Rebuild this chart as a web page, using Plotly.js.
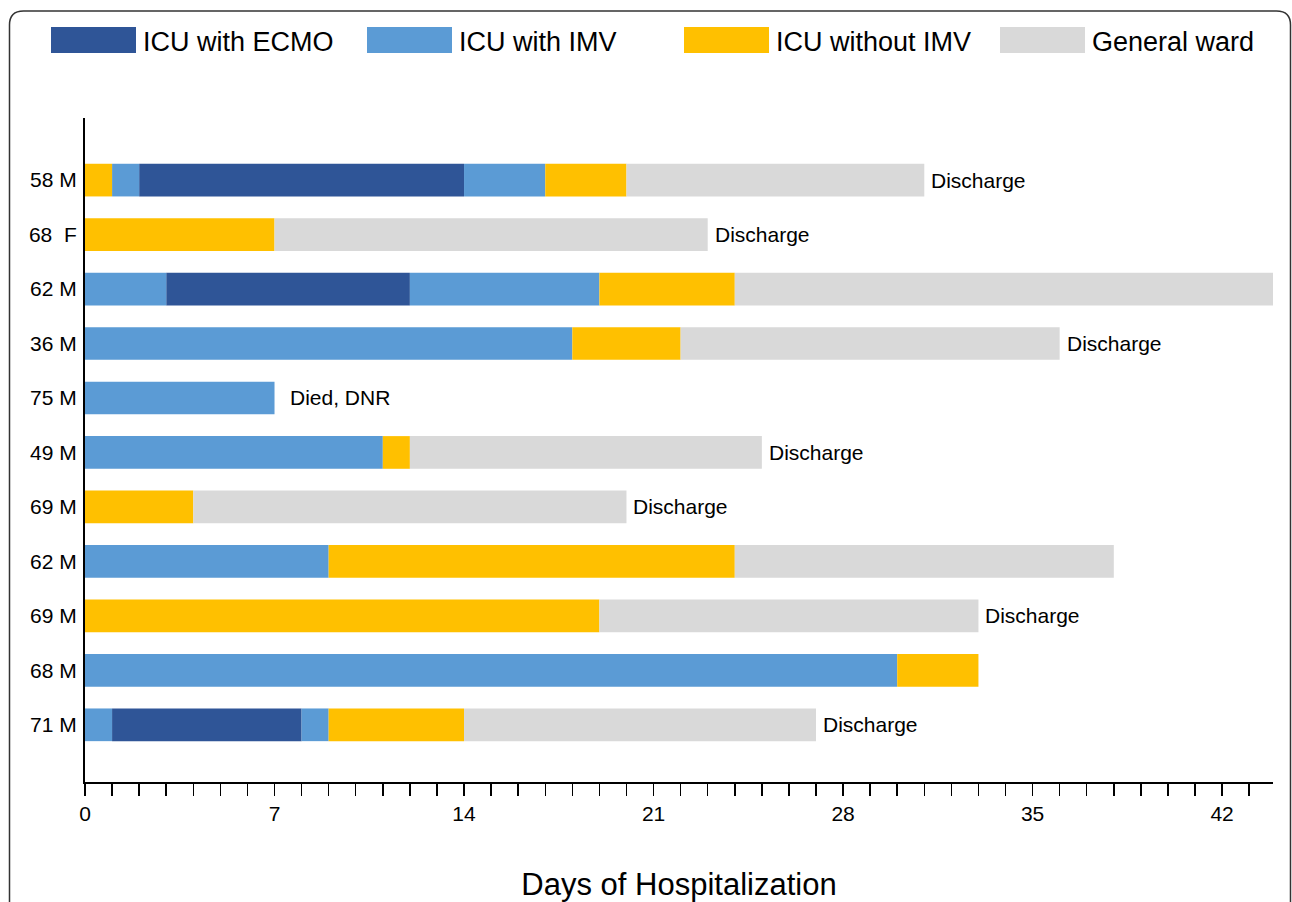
<!DOCTYPE html>
<html>
<head>
<meta charset="utf-8">
<script src="https://cdn.plot.ly/plotly-3.0.1.min.js"></script>
<style>
  html, body { margin: 0; padding: 0; background: #fff; }
  #chart { width: 1292px; height: 902px; }
</style>
</head>
<body>
<div id="chart"></div>
<script>
// ---------------- DATA ----------------
const phaseNames  = ['ICU with ECMO', 'ICU with IMV', 'ICU without IMV', 'General ward'];
const phaseColors = ['#2F5597', '#5B9BD5', '#FFC000', '#D9D9D9'];

// patients listed top to bottom
const patients = ['58 M', '68  F', '62 M', '36 M', '75 M', '49 M', '69 M', '62 M', '69 M', '68 M', '71 M'];

// sequence of phases per patient (index into phaseNames)
const rowPhases = [
  [2, 1, 0, 1, 2, 3],
  [2, 3],
  [1, 0, 1, 2, 3],
  [1, 2, 3],
  [1],
  [1, 2, 3],
  [2, 3],
  [1, 2, 3],
  [2, 3],
  [1, 2],
  [1, 0, 1, 2, 3]
];
// days spent in each phase
const rowDays = [
  [1, 1, 12, 3, 3, 11],
  [7, 16],
  [3, 9, 7, 5, 20],
  [18, 4, 14],
  [7],
  [11, 1, 13],
  [4, 16],
  [9, 15, 14],
  [19, 14],
  [30, 3],
  [1, 7, 1, 5, 13]
];
const outcomes = ['Discharge', 'Discharge', '', 'Discharge', 'Died, DNR', 'Discharge', 'Discharge', '', 'Discharge', '', 'Discharge'];

const xTickVals = [0, 7, 14, 21, 28, 35, 42];
const xTitle = 'Days of Hospitalization';

// ---------------- BUILD ----------------
const W = 1292, H = 902;
const M = { l: 85, r: 19, t: 118, b: 120 };
const pw = W - M.l - M.r, ph = H - M.t - M.b;
const px = x => (x - M.l) / pw;
const py = y => (H - M.b - y) / ph;

const FONT = 'Arial, "Liberation Sans", sans-serif';

const traces = phaseNames.map((name, k) => ({
  type: 'bar', orientation: 'h', name: name,
  x: [], y: [], base: [],
  width: 0.6,
  cliponaxis: false,
  marker: { color: phaseColors[k], line: { width: 0 } },
  showlegend: false,
  hoverinfo: 'name+x'
}));

const yIdx = patients.map((p, i) => i);
const totals = [];
rowPhases.forEach((seq, i) => {
  let start = 0;
  seq.forEach((ph, j) => {
    const d = rowDays[i][j];
    traces[ph].x.push(d);
    traces[ph].y.push(i);
    traces[ph].base.push(start);
    start += d;
  });
  totals.push(start);
});

const annotations = [];
outcomes.forEach((t, i) => {
  if (!t) return;
  annotations.push({
    x: totals[i], y: i, xref: 'x', yref: 'y',
    text: t, showarrow: false, xanchor: 'left', yanchor: 'middle',
    xshift: t === 'Discharge' ? 5 : 13,
    font: { family: FONT, size: 21, color: '#000' }
  });
});

// legend drawn as swatches + labels along the top
const shapes = [];
const legendX = [51, 367, 684, 1000];
phaseNames.forEach((name, k) => {
  const x0 = legendX[k];
  shapes.push({
    type: 'rect', xref: 'paper', yref: 'paper',
    x0: px(x0), x1: px(x0 + 85), y0: py(53), y1: py(27),
    fillcolor: phaseColors[k], line: { width: 0 }
  });
  annotations.push({
    xref: 'paper', yref: 'paper', x: px(x0 + 90), y: py(42),
    text: name, showarrow: false, xanchor: 'left', yanchor: 'middle',
    font: { family: FONT, size: 27, color: '#000' }
  });
});

// outer rounded frame
const fx0 = 9.5, fy0 = 11, fx1 = 1290.5, fyb = 930, r = 14;
shapes.push({
  type: 'path', xref: 'paper', yref: 'paper',
  path: `M ${px(fx0)},${py(fyb)} L ${px(fx0)},${py(fy0 + r)} Q ${px(fx0)},${py(fy0)} ${px(fx0 + r)},${py(fy0)} ` +
        `L ${px(fx1 - r)},${py(fy0)} Q ${px(fx1)},${py(fy0)} ${px(fx1)},${py(fy0 + r)} L ${px(fx1)},${py(fyb)}`,
  line: { color: '#333', width: 1.5 }
});

const layout = {
  width: W, height: H,
  margin: M,
  paper_bgcolor: '#fff', plot_bgcolor: '#fff',
  barmode: 'overlay',
  showlegend: false,
  font: { family: FONT, size: 21, color: '#000' },
  xaxis: {
    range: [0, 43.88],
    tickvals: xTickVals,
    ticks: 'outside', ticklen: 12, tickwidth: 1.5, tickcolor: '#000',
    minor: { dtick: 1, tick0: 0, ticks: 'outside', ticklen: 12, tickwidth: 1.5, tickcolor: '#000', showgrid: false },
    showline: true, linecolor: '#000', linewidth: 2,
    showgrid: false, zeroline: false,
    tickfont: { family: FONT, size: 21, color: '#000' },
    title: { text: xTitle, font: { family: FONT, size: 31, color: '#000' }, standoff: 50 },
    automargin: false, fixedrange: true
  },
  yaxis: {
    range: [patients.length - 1 + 1.05, -1.14],
    tickvals: yIdx, ticktext: patients,
    ticks: '', showline: true, linecolor: '#000', linewidth: 2,
    showgrid: false, zeroline: false,
    tickfont: { family: FONT, size: 21, color: '#000' },
    ticklabelstandoff: 2,
    automargin: false, fixedrange: true
  },
  shapes: shapes,
  annotations: annotations
};

Plotly.newPlot('chart', traces, layout, { displayModeBar: false, staticPlot: true });
</script>
</body>
</html>
